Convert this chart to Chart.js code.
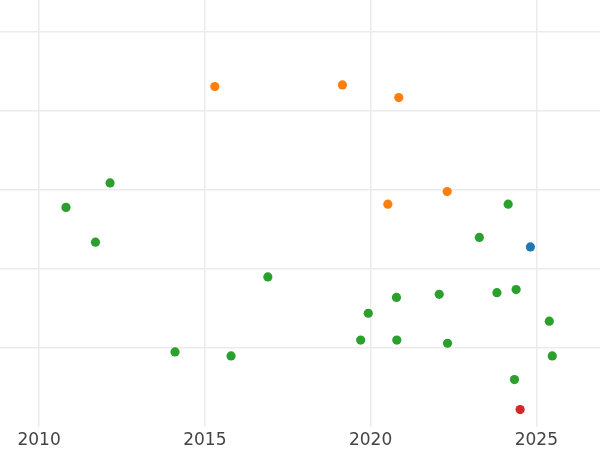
<!DOCTYPE html>
<html>
<head>
<meta charset="utf-8">
<script src="https://cdn.jsdelivr.net/npm/chart.js@4/dist/chart.umd.min.js"></script>
<style>
  html, body { margin: 0; padding: 0; background: #fff; }
  #wrap { width: 600px; height: 450px; }
</style>
</head>
<body>
<div id="wrap"><canvas id="chart"></canvas></div>
<script>
// years on x, unlabelled value on y (one grid step = 1 unit)
const xTicks = [2010, 2015, 2020, 2025];

const orangeX = [2015.30, 2019.15, 2020.85, 2020.52, 2022.31];
const orangeY = [4.31, 4.33, 4.17, 2.82, 2.98];

const greenX = [2012.14, 2010.81, 2011.70, 2016.90, 2019.93, 2020.78, 2022.07, 2023.81,
  2024.39, 2023.28, 2024.15, 2025.39, 2014.10, 2015.79, 2019.70, 2020.79, 2022.32,
  2025.48, 2024.34];
const greenY = [3.09, 2.78, 2.34, 1.90, 1.44, 1.64, 1.68, 1.70,
  1.74, 2.40, 2.82, 1.34, 0.95, 0.90, 1.10, 1.10, 1.06,
  0.90, 0.60];

const blueX = [2024.82];
const blueY = [2.28];

const redX = [2024.51];
const redY = [0.22];

const pts = (xs, ys) => xs.map((x, i) => ({ x, y: ys[i] }));

function series(xs, ys, color) {
  return {
    data: pts(xs, ys),
    backgroundColor: color,
    borderWidth: 0,
    pointRadius: 4.6,
    pointHoverRadius: 4.6
  };
}

new Chart(document.getElementById('chart'), {
  type: 'scatter',
  data: {
    datasets: [
      series(greenX, greenY, '#2ca02c'),
      series(orangeX, orangeY, '#ff7f0e'),
      series(blueX, blueY, '#1f77b4'),
      series(redX, redY, '#d62728')
    ]
  },
  options: {
    responsive: true,
    maintainAspectRatio: false,
    animation: false,
    layout: { padding: 0, autoPadding: false },
    plugins: { legend: { display: false }, tooltip: { enabled: false } },
    scales: {
      x: {
        type: 'linear',
        min: 2008.82,
        max: 2026.92,
        afterBuildTicks: axis => { axis.ticks = xTicks.map(v => ({ value: v })); },
        afterFit: axis => { axis.height = 23; },
        ticks: {
          includeBounds: false,
          padding: 3,
          color: '#444',
          font: { family: 'DejaVu Sans', size: 17 },
          callback: v => String(v)
        },
        grid: { color: '#ebebeb', lineWidth: 1.5, drawTicks: false },
        border: { display: false }
      },
      y: {
        min: 0,
        max: 5.405,
        afterBuildTicks: axis => { axis.ticks = [1, 2, 3, 4, 5].map(v => ({ value: v })); },
        ticks: { display: false },
        grid: { color: '#ebebeb', lineWidth: 1.5, drawTicks: false },
        border: { display: false }
      }
    }
  }
});
</script>
</body>
</html>
